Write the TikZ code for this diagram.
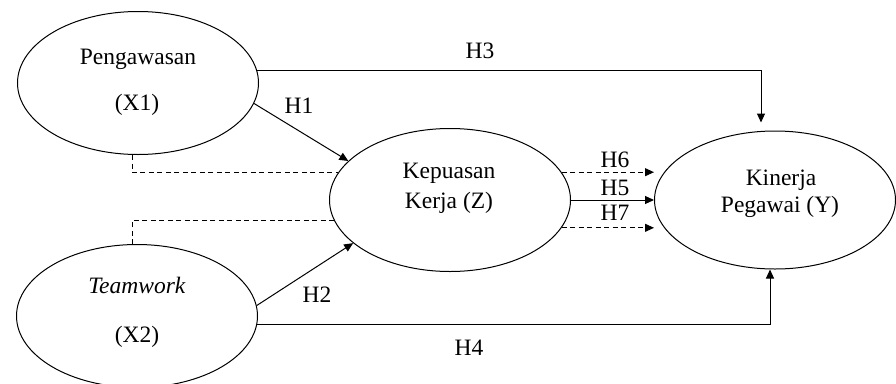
\documentclass[tikz,border=0pt]{standalone}
\usepackage{fontspec}
\setmainfont{Liberation Serif}
\usetikzlibrary{arrows.meta,shapes.geometric}
\begin{document}
\begin{tikzpicture}[x=1pt,y=-1pt,
  ell/.style={draw, ellipse, line width=1pt, minimum width=241pt, minimum height=143pt, inner sep=0pt},
  txt/.style={font=\fontsize{23.5}{27}\selectfont, anchor=base, inner sep=0pt},
  conn/.style={line width=1pt},
  arr/.style={conn, -{Triangle[length=9pt,width=8pt]}},
  dsh/.style={line width=1pt, dash pattern=on 5pt off 3.5pt}]
\useasboundingbox (0,0) rectangle (896,383);
% ellipses
\node[ell] (x1) at (138,83) {};
\node[ell] (x2) at (137,316) {};
\node[ell] (z) at (450,200) {};
\node[ell, minimum height=138pt] (y) at (775,200) {};
% texts
\node[txt] (t1a) at (138,64) {Pengawasan};
\node[txt] (t1b) at (137,110) {(X1)};
\node[txt] (t2a) at (137,293) {\textit{Teamwork}};
\node[txt] (t2b) at (137,342) {(X2)};
\node[txt] (tza) at (449,178) {Kepuasan};
\node[txt] (tzb) at (449,208) {Kerja (Z)};
\node[txt] (tya) at (781,185) {Kinerja};
\node[txt] (tyb) at (780,212) {Pegawai (Y)};
% labels
\node[txt] (h1) at (299,113) {H1};
\node[txt] (h2) at (317,302) {H2};
\node[txt] (h3) at (480,58) {H3};
\node[txt] (h4) at (469,355) {H4};
\node[txt] (h6) at (615,167) {H6};
\node[txt] (h5) at (615,195) {H5};
\node[txt] (h7) at (615,220) {H7};
% connectors
\draw[arr] (x1.6) -| ([xshift=-14pt,yshift=8pt]y.north);
\draw[arr] (x2.-4) -| ([xshift=-5pt]y.south);
\draw[arr] (x1.-10) -- (z.159);
\draw[arr] (x2.5) -- (z.204);
\draw[dsh] ([xshift=-6pt]x1.south) |- (z.166);
\draw[dsh] ([xshift=-5pt]x2.north) |- (z.190);
\draw[arr] (z.east) -- (y.west);
\draw[arr, dash pattern=on 5pt off 3.5pt] (z.14) -- (z.14 -| y.west);
\draw[arr, dash pattern=on 5pt off 3.5pt] (z.-14) -- (z.-14 -| y.west);
\end{tikzpicture}
\end{document}
